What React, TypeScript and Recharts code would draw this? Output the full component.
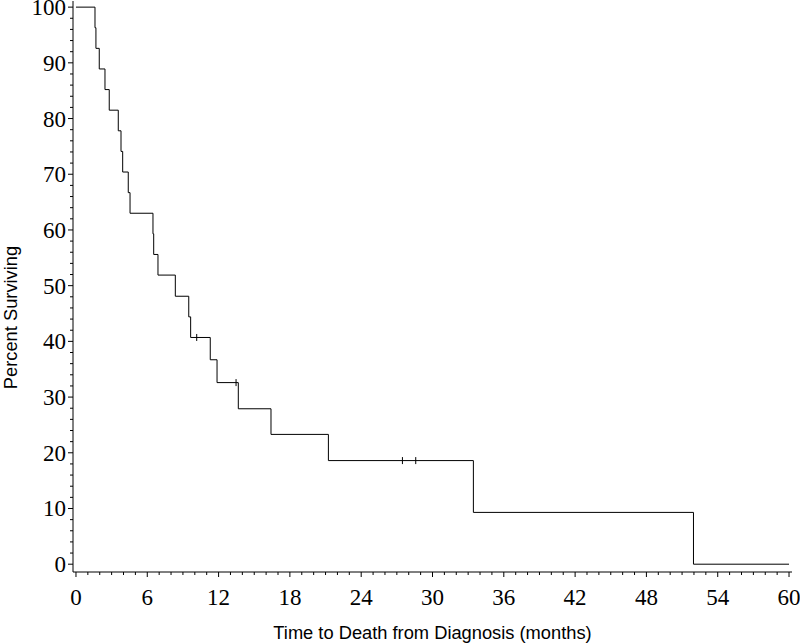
import React from "react";
import {
  ComposedChart,
  Line,
  Scatter,
  XAxis,
  YAxis,
  ReferenceArea,
  Label,
} from "recharts";

// Kaplan-Meier steps (months, % surviving)
const eventMonths = [
  0, 1.6, 1.68, 1.96, 2.44, 2.8, 3.56, 3.79, 3.93, 4.4, 4.55, 6.48, 6.54, 6.9,
  8.36, 9.49, 9.65, 11.3, 11.87, 13.66, 16.41, 21.24, 33.44, 51.96, 60,
];
const survivalPct = [
  100, 96.3, 92.6, 88.9, 85.2, 81.5, 77.8, 74.1, 70.4, 66.7, 63.0, 59.3, 55.6,
  51.9, 48.1, 44.4, 40.7, 36.7, 32.6, 27.9, 23.3, 18.6, 9.3, 0, 0,
];

// censored observations (small vertical ticks)
const censorMonths = [10.16, 13.47, 27.47, 28.59];
const censorPct = [40.7, 32.6, 18.6, 18.6];

// tick positions: minor every 1 month / 2 %, labelled every 6 months / 10 %
const xTicks = Array.from({ length: 61 }, (_, i) => i);
const yTicks = Array.from({ length: 51 }, (_, i) => i * 2);

const kmData = eventMonths.map((m, i) => ({ month: m, pct: survivalPct[i] }));
const censorData = censorMonths.map((m, i) => ({ month: m, pct: censorPct[i] }));

const serif = "'Liberation Serif', 'Times New Roman', serif";
const sans = "'Liberation Sans', Arial, sans-serif";

const XTick = (props: any) => {
  const { x, y, payload } = props;
  const v = payload.value;
  const major = v % 6 === 0;
  return (
    <g>
      <line x1={x} x2={x} y1={y} y2={y + (major ? 5 : 3)} stroke="#000" />
      {major && (
        <text x={x} y={y + 33} textAnchor="middle" fontSize={23} fontFamily={serif} fill="#000">
          {v}
        </text>
      )}
    </g>
  );
};

const YTick = (props: any) => {
  const { x, y, payload } = props;
  const v = payload.value;
  const major = v % 10 === 0;
  return (
    <g>
      <line x1={x - (major ? 5 : 3)} x2={x} y1={y} y2={y} stroke="#000" />
      {major && (
        <text x={x - 7} y={y + 8} textAnchor="end" fontSize={23} fontFamily={serif} fill="#000">
          {v}
        </text>
      )}
    </g>
  );
};

const CensorMark = (props: any) => {
  const { cx, cy } = props;
  return <line x1={cx} x2={cx} y1={cy - 3.5} y2={cy + 3.5} stroke="#000" />;
};

export default function App() {
  return (
    <div style={{ position: "absolute", left: 0, top: 0, width: 800, height: 643, background: "#fff" }}>
      <ComposedChart
        width={800}
        height={643}
        data={kmData}
        margin={{ top: 1, right: 8, bottom: 0, left: 0 }}
      >
        <XAxis
          dataKey="month"
          type="number"
          domain={[-0.25, 60.25]}
          allowDataOverflow
          ticks={xTicks}
          interval={0}
          height={71}
          tickSize={0}
          tickMargin={0}
          tick={<XTick />}
          axisLine={{ stroke: "#000" }}
        >
          <Label
            content={(p: any) => {
              const vb = p.viewBox;
              return (
                <text
                  x={vb.x + vb.width / 2}
                  y={vb.y + 67}
                  textAnchor="middle"
                  fontSize={18.3}
                  fontFamily={sans}
                  fill="#000"
                >
                  Time to Death from Diagnosis (months)
                </text>
              );
            }}
          />
        </XAxis>
        <YAxis
          type="number"
          domain={[-1.4, 101.1]}
          allowDataOverflow
          ticks={yTicks}
          interval={0}
          width={73}
          tickSize={0}
          tickMargin={0}
          tick={<YTick />}
          axisLine={{ stroke: "#000" }}
        >
          <Label
            content={(p: any) => {
              const vb = p.viewBox;
              const cy = vb.y + vb.height / 2 + 31;
              return (
                <text
                  x={17}
                  y={cy}
                  transform={`rotate(-90, 17, ${cy})`}
                  textAnchor="middle"
                  fontSize={18.3}
                  fontFamily={sans}
                  fill="#000"
                >
                  Percent Surviving
                </text>
              );
            }}
          />
        </YAxis>
        <ReferenceArea fill="none" stroke="#000" strokeWidth={1} />
        <Line
          type="stepAfter"
          dataKey="pct"
          stroke="#000"
          strokeWidth={1}
          dot={false}
          activeDot={false}
          isAnimationActive={false}
        />
        <Scatter
          data={censorData}
          dataKey="pct"
          shape={<CensorMark />}
          isAnimationActive={false}
        />
      </ComposedChart>
    </div>
  );
}
